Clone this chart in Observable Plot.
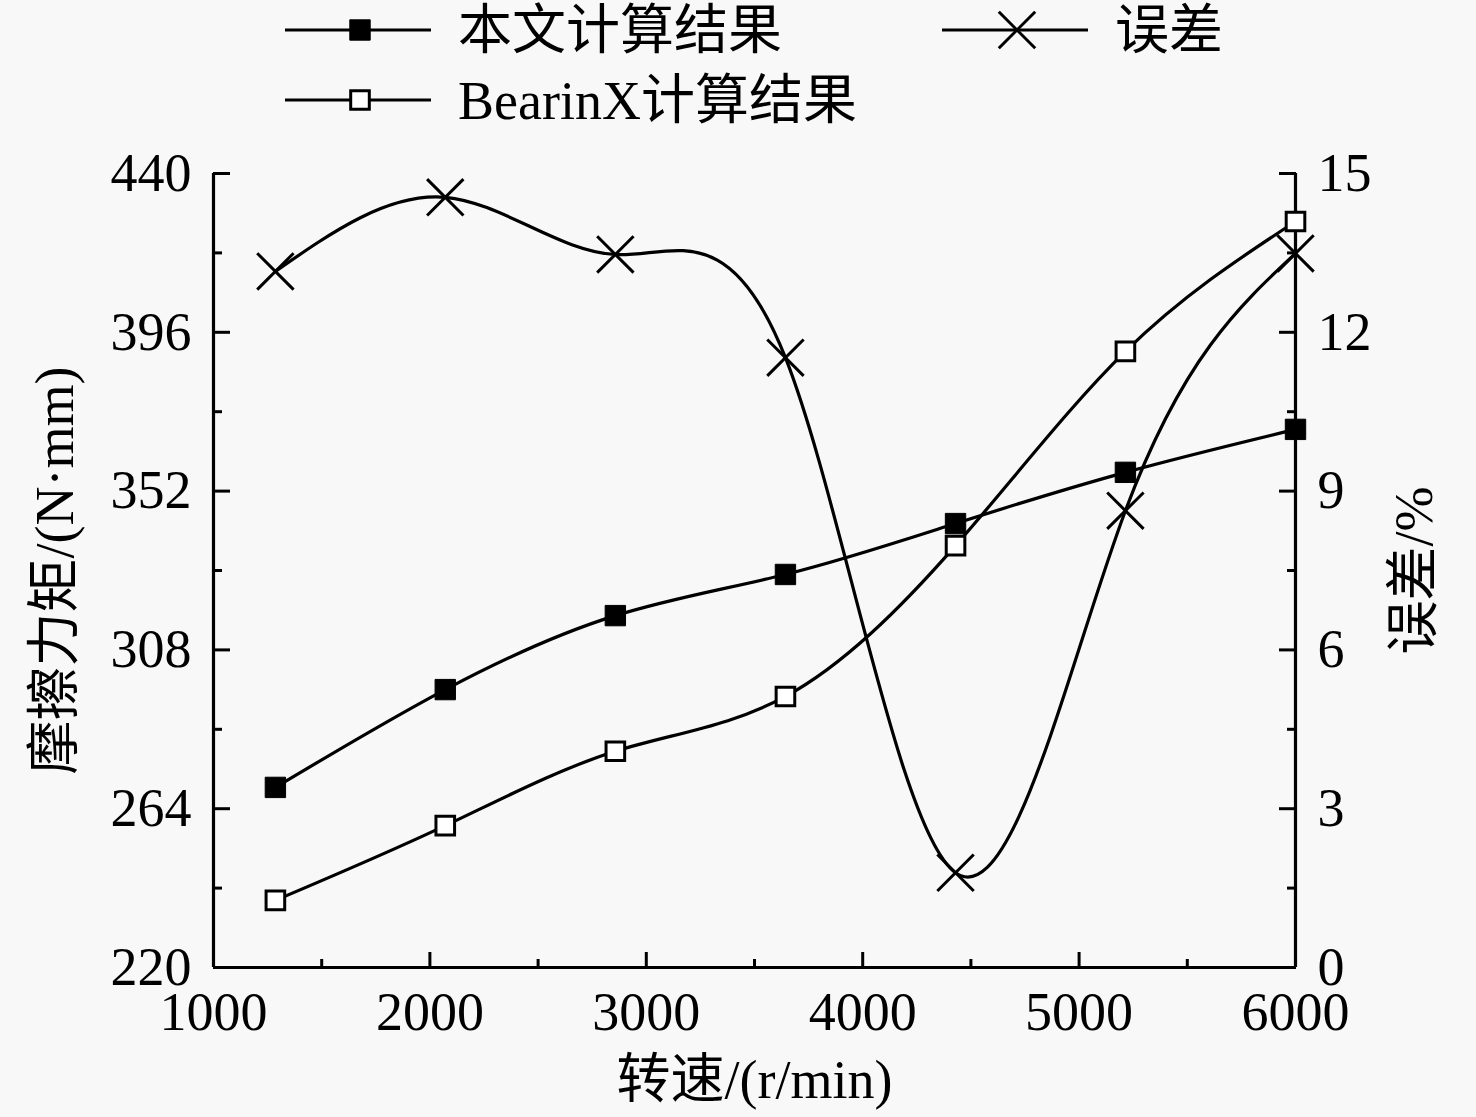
<!DOCTYPE html>
<html><head><meta charset="utf-8">
<script src="https://cdn.jsdelivr.net/npm/d3@7"></script>
<script src="https://cdn.jsdelivr.net/npm/@observablehq/plot@0.6"></script>
<style>
html,body{margin:0;padding:0;background:#f8f8f8;}
#wrap{width:1476px;}
#legend{display:block;}
#chart svg{display:block;}
</style></head><body>
<div id="wrap"><svg id="legend" width="1476" height="140"></svg><div id="chart"></div></div>
<script>
// ---- data ----
const speeds = [1286, 2071, 2857, 3643, 4429, 5214, 6000];
const oursTorque = [269.9, 297.0, 317.5, 328.9, 343.0, 357.2, 369.1];
const bearinxTorque = [238.6, 259.3, 279.9, 295.1, 336.9, 390.7, 426.7];
const errorPct = [13.15, 14.55, 13.47, 11.52, 1.79, 8.63, 13.49];
const xTicks = [1000, 2000, 3000, 4000, 5000, 6000];
const xMinorTicks = [1500, 2500, 3500, 4500, 5500];
const yTicks = [220, 264, 308, 352, 396, 440];
const yMinorTicks = [242, 286, 330, 374, 418];
const errTicks = [0, 3, 6, 9, 12, 15];
const errMinorTicks = [1.5, 4.5, 7.5, 10.5, 13.5];
const seriesNames = ["本文计算结果", "误差", "BearinX计算结果"];
const xLabel = "转速/(r/min)";
const yLabel = "摩擦力矩/(N·mm)";
const y2Label = "误差/%";

const yDomain = [220, 440];
const errDomain = [0, 15];
const errToLeft = v => yDomain[0] + (v - errDomain[0]) * (yDomain[1] - yDomain[0]) / (errDomain[1] - errDomain[0]);
const leftToErr = v => errDomain[0] + (v - yDomain[0]) * (errDomain[1] - errDomain[0]) / (yDomain[1] - yDomain[0]);

const rows = speeds.map((s, i) => ({speed: s, ours: oursTorque[i], bx: bearinxTorque[i], err: errorPct[i]}));

const FONT = "'Liberation Serif', 'Times New Roman', 'Noto Sans CJK SC', serif";
const FS = 54;

// ---- legend ----
const leg = d3.select("#legend").style("font-family", FONT);
function legendItem(x0, cy, type, label) {
  leg.append("line").attr("x1", x0).attr("x2", x0 + 146).attr("y1", cy).attr("y2", cy)
    .attr("stroke", "black").attr("stroke-width", 3);
  const cx = x0 + 75;
  if (type === "filled") {
    leg.append("path").attr("d", d3.symbol(d3.symbolSquare, Math.PI * 11.5 * 11.5)())
      .attr("transform", `translate(${cx},${cy})`).attr("fill", "black").attr("stroke", "black");
  } else if (type === "open") {
    leg.append("path").attr("d", d3.symbol(d3.symbolSquare, Math.PI * 10.5 * 10.5)())
      .attr("transform", `translate(${cx},${cy})`).attr("fill", "white").attr("stroke", "black").attr("stroke-width", 3);
  } else {
    leg.append("path").attr("d", d3.symbol(d3.symbolTimes, Math.PI * 16.6 * 16.6)())
      .attr("transform", `translate(${cx},${cy})`).attr("fill", "none").attr("stroke", "black").attr("stroke-width", 3);
  }
  leg.append("text").attr("x", x0 + 173).attr("y", cy).attr("dy", "0.36em")
    .attr("font-size", FS).attr("fill", "black").text(label);
}
legendItem(285, 30, "filled", seriesNames[0]);
legendItem(942, 30, "times", seriesNames[1]);
legendItem(285, 100, "open", seriesNames[2]);

// ---- chart ----
const chart = Plot.plot({
  width: 1476,
  height: 977,
  marginTop: 33,
  marginBottom: 150,
  marginLeft: 213,
  marginRight: 181,
  style: {fontFamily: FONT, fontSize: FS + "px", background: "#f8f8f8", color: "black"},
  x: {domain: [1000, 6000]},
  y: {domain: yDomain},
  marks: [
    // axis lines
    Plot.ruleX([1000, 6000], {strokeWidth: 3.2}),
    Plot.ruleY([220], {strokeWidth: 3.2}),
    // bottom axis
    Plot.axisX({ticks: xTicks, tickSize: 0, tickPadding: 24, tickFormat: d => String(d), fontSize: FS, label: null}),
    Plot.axisX({ticks: xTicks, tickSize: -15, fill: "none", strokeWidth: 3}),
    Plot.axisX({ticks: xMinorTicks, tickSize: -8, fill: "none", strokeWidth: 3}),
    // left axis
    Plot.axisY({ticks: yTicks, tickSize: 0, tickPadding: 22, tickFormat: d => String(d), fontSize: FS, label: null}),
    Plot.axisY({ticks: yTicks, tickSize: -17, fill: "none", strokeWidth: 3}),
    Plot.axisY({ticks: yMinorTicks, tickSize: -9, fill: "none", strokeWidth: 3}),
    // right axis (error %)
    Plot.axisY({anchor: "right", ticks: errTicks.map(errToLeft), tickSize: 0, tickPadding: 22,
      tickFormat: d => String(Math.round(leftToErr(d))), fontSize: FS, label: null}),
    Plot.axisY({anchor: "right", ticks: errTicks.map(errToLeft), tickSize: -17, fill: "none", strokeWidth: 3}),
    Plot.axisY({anchor: "right", ticks: errMinorTicks.map(errToLeft), tickSize: -9, fill: "none", strokeWidth: 3}),
    // axis titles
    Plot.text([xLabel], {frameAnchor: "bottom", dy: 113, text: d => d, fontSize: FS, lineAnchor: "middle", textAnchor: "middle"}),
    Plot.text([yLabel], {frameAnchor: "left", dx: -158, rotate: -90, text: d => d, fontSize: FS, lineAnchor: "middle", textAnchor: "middle"}),
    Plot.text([y2Label], {frameAnchor: "right", dx: 119, rotate: -90, text: d => d, fontSize: FS, lineAnchor: "middle", textAnchor: "middle"}),
    // series lines
    Plot.line(rows, {x: "speed", y: "ours", curve: "natural", stroke: "black", strokeWidth: 3.2}),
    Plot.line(rows, {x: "speed", y: "bx", curve: "natural", stroke: "black", strokeWidth: 3.2}),
    Plot.line(rows, {x: "speed", y: d => errToLeft(d.err), curve: "natural", stroke: "black", strokeWidth: 3.2}),
    // markers
    Plot.dot(rows, {x: "speed", y: d => errToLeft(d.err), symbol: "times", r: 16.6, stroke: "black", strokeWidth: 3}),
    Plot.dot(rows, {x: "speed", y: "bx", symbol: "square", r: 10.5, fill: "white", stroke: "black", strokeWidth: 3}),
    Plot.dot(rows, {x: "speed", y: "ours", symbol: "square", r: 11.5, fill: "black", stroke: "black", strokeWidth: 1})
  ]
});
document.getElementById("chart").appendChild(chart);
</script>
</body></html>
